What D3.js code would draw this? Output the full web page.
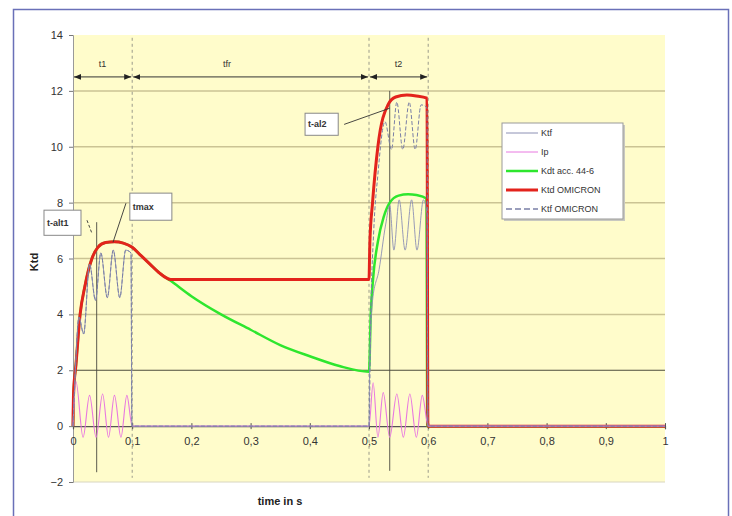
<!DOCTYPE html>
<html>
<head>
<meta charset="utf-8">
<script src="https://cdn.jsdelivr.net/npm/d3@7"></script>
<style>
  body { margin: 0; background: #fff; }
  text { font-family: "Liberation Sans", Arial, sans-serif; }
</style>
</head>
<body>
<svg width="732" height="516"></svg>
<script>
// data (time in s, Ktd)
var xTicks = [0, 0.1, 0.2, 0.3, 0.4, 0.5, 0.6, 0.7, 0.8, 0.9, 1];
var yTicks = [-2, 0, 2, 4, 6, 8, 10, 12, 14];

var ktdOmicron = [[0,0],[0.001,1.2],[0.005,2.2],[0.012,4.0],[0.02,5.0],[0.032,6.0],[0.042,6.4],[0.055,6.57],
  [0.07,6.6],[0.085,6.55],[0.1,6.4],[0.115,6.1],[0.13,5.8],[0.145,5.5],[0.165,5.25],[0.5,5.25],
  [0.5015,6.6],[0.506,8.0],[0.515,10.0],[0.532,11.5],[0.545,11.78],[0.564,11.85],[0.58,11.82],
  [0.598,11.74],[0.5995,0],[1,0]];

var kdtAcc = [[0,0],[0.001,1.2],[0.005,2.2],[0.012,4.0],[0.02,5.0],[0.032,6.0],[0.042,6.4],[0.055,6.57],
  [0.07,6.6],[0.085,6.55],[0.1,6.4],[0.115,6.1],[0.13,5.8],[0.145,5.5],[0.165,5.2],[0.2,4.65],
  [0.25,4.0],[0.3,3.45],[0.35,2.9],[0.4,2.5],[0.45,2.15],[0.5,1.95],[0.503,4.0],[0.507,5.3],
  [0.515,6.6],[0.525,7.5],[0.535,8.0],[0.55,8.25],[0.566,8.3],[0.58,8.27],[0.597,8.15],[0.5985,0],[1,0]];

var ip = [[0,0],[0.005,1.6],[0.017,-0.4],[0.028,1.1],[0.039,-0.4],[0.05,1.15],[0.06,-0.4],[0.07,1.1],
  [0.081,-0.4],[0.091,1.1],[0.1,0],[0.5,0],[0.507,1.55],[0.515,-0.4],[0.524,1.2],[0.535,-0.4],
  [0.547,1.15],[0.558,-0.4],[0.569,1.15],[0.58,-0.4],[0.59,1.1],[0.6,0],[1,0]];

var ktf = [[0,0],[0.004,2],[0.01,3.9],[0.018,3.3],[0.028,5.8],[0.038,4.5],[0.047,6.2],[0.058,4.6],
  [0.068,6.3],[0.079,4.6],[0.089,6.3],[0.098,6.2],[0.0995,0],[0.5,0],[0.501,2],[0.506,4.5],
  [0.517,5.6],[0.528,7.2],[0.535,7.9],[0.542,6.3],[0.551,8.1],[0.561,6.3],[0.572,8.1],[0.581,6.3],
  [0.592,8.1],[0.598,7.6],[0.5995,0],[1,0]];

var ktfOmicron = [[0,0],[0.004,2],[0.01,3.9],[0.018,3.3],[0.028,5.8],[0.038,4.5],[0.047,6.2],[0.058,4.6],
  [0.068,6.3],[0.079,4.6],[0.089,6.3],[0.098,6.2],[0.0995,0],[0.5,0],[0.503,4],[0.508,7],
  [0.515,9],[0.527,10.9],[0.538,9.9],[0.547,11.6],[0.557,9.9],[0.568,11.6],[0.578,9.9],
  [0.588,11.5],[0.598,11.4],[0.5995,0],[1,0]];

// dashed phase boundaries and thin marker lines
var phaseLines = [0.1, 0.5, 0.6];
var markerLines = [[0.04, 7.3, -1.65], [0.535, 12.0, -1.6]];
var phases = [["t1", 0, 0.1], ["tfr", 0.1, 0.5], ["t2", 0.5, 0.6]];

// callout boxes: label, x0, x1, yTop, yBottom, leader from, leader to, dashed?
var callouts = [
  ["t-alt1", -0.049, 0.0135, 7.73, 6.83, [0.0236, 7.37], [0.032, 6.9], true],
  ["tmax", 0.096, 0.167, 8.34, 7.37, [0.0895, 7.98], [0.0676, 6.58], false],
  ["t-al2", 0.392, 0.448, 11.2, 10.41, [0.458, 10.8], [0.535, 11.38], false]
];

var svg = d3.select('svg');
var x = d3.scaleLinear().domain([0, 1]).range([73, 665]);
var y = d3.scaleLinear().domain([-2, 14]).range([482, 35]);

// outer frame
svg.append('rect').attr('x', 13.5).attr('y', 9.5).attr('width', 715).attr('height', 520)
  .attr('fill', '#fff').attr('stroke', '#6a70b8').attr('stroke-width', 1.5);

// plot area
svg.append('rect').attr('x', x(0)).attr('y', y(14)).attr('width', x(1) - x(0)).attr('height', y(-2) - y(14))
  .attr('fill', '#fffccb');
svg.append('line').attr('x1', x(0)).attr('x2', x(1)).attr('y1', y(-2)).attr('y2', y(-2))
  .attr('stroke', '#d8d6c0').attr('stroke-width', 1);

// gridlines
svg.append('g').selectAll('line').data(yTicks.filter(function(d) { return d > 2 && d < 14; }))
  .enter().append('line')
  .attr('x1', x(0)).attr('x2', x(1))
  .attr('y1', function(d) { return y(d); }).attr('y2', function(d) { return y(d); })
  .attr('stroke', '#cbc394').attr('stroke-width', 1.5);
svg.append('line').attr('x1', x(0)).attr('x2', x(1)).attr('y1', y(2)).attr('y2', y(2))
  .attr('stroke', '#4e4c3c').attr('stroke-width', 1);

// dashed phase lines
svg.append('g').selectAll('line').data(phaseLines).enter().append('line')
  .attr('x1', function(d) { return x(d); }).attr('x2', function(d) { return x(d); })
  .attr('y1', y(13.9)).attr('y2', y(-1.85))
  .attr('stroke', '#9a9a8a').attr('stroke-width', 1).attr('stroke-dasharray', '3,3');

// axes
var yAxis = svg.append('g').attr('transform', 'translate(' + x(0) + ',0)')
  .call(d3.axisLeft(y).tickValues(yTicks).tickSize(4).tickPadding(6).tickFormat(d3.format('d')));
yAxis.select('.domain').attr('stroke', '#999');
yAxis.selectAll('.tick line').attr('stroke', '#777');
yAxis.selectAll('.tick text').attr('font-size', 11).attr('fill', '#333')
  .attr('font-family', '"Liberation Sans", Arial, sans-serif');

var xAxis = svg.append('g').attr('transform', 'translate(0,' + y(0) + ')')
  .call(d3.axisBottom(x).tickValues(xTicks).tickSize(3).tickPadding(8)
    .tickFormat(function(d) { return d === 0 || d === 1 ? String(d) : String(d).replace('.', ','); }));
xAxis.select('.domain').attr('stroke', '#555').attr('stroke-width', 1.2);
xAxis.selectAll('.tick line').attr('stroke', '#555').attr('y1', -3);
xAxis.selectAll('.tick text').attr('font-size', 11).attr('fill', '#333')
  .attr('font-family', '"Liberation Sans", Arial, sans-serif');

// thin marker lines
svg.append('g').selectAll('line').data(markerLines).enter().append('line')
  .attr('x1', function(d) { return x(d[0]); }).attr('x2', function(d) { return x(d[0]); })
  .attr('y1', function(d) { return y(d[1]); }).attr('y2', function(d) { return y(d[2]); })
  .attr('stroke', '#4a4a40').attr('stroke-width', 0.9);

// series
var line = d3.line()
  .x(function(d) { return x(d[0]); })
  .y(function(d) { return y(d[1]); })
  .curve(d3.curveMonotoneX);

svg.append('path').datum(kdtAcc).attr('d', line).attr('fill', 'none')
  .attr('stroke', '#2ee62e').attr('stroke-width', 2.5);
svg.append('path').datum(ktdOmicron).attr('d', line).attr('fill', 'none')
  .attr('stroke', '#e3231c').attr('stroke-width', 3);
svg.append('path').datum(ip).attr('d', line).attr('fill', 'none')
  .attr('stroke', '#e878e0').attr('stroke-width', 1.1);
svg.append('path').datum(ktf).attr('d', line).attr('fill', 'none')
  .attr('stroke', '#8c90b4').attr('stroke-width', 0.9);
svg.append('path').datum(ktfOmicron).attr('d', line).attr('fill', 'none')
  .attr('stroke', '#7a7fa6').attr('stroke-width', 1).attr('stroke-dasharray', '4,2');

// phase dimension arrows
var defs = svg.append('defs');
defs.append('marker').attr('id', 'arr').attr('viewBox', '0 0 10 10').attr('refX', 10).attr('refY', 5)
  .attr('markerWidth', 7).attr('markerHeight', 7).attr('orient', 'auto-start-reverse')
  .append('path').attr('d', 'M0,1 L10,5 L0,9 Z').attr('fill', '#222');

var dim = svg.append('g');
dim.selectAll('line').data(phases).enter().append('line')
  .attr('x1', function(d) { return x(d[1]) + 1; }).attr('x2', function(d) { return x(d[2]) - 1; })
  .attr('y1', y(12.5)).attr('y2', y(12.5))
  .attr('stroke', '#333').attr('stroke-width', 1)
  .attr('marker-start', 'url(#arr)').attr('marker-end', 'url(#arr)');
dim.selectAll('text').data(phases).enter().append('text')
  .attr('x', function(d) { return x(d[0] === 'tfr' ? 0.26 : (d[1] + d[2]) / 2); })
  .attr('y', y(12.85))
  .attr('text-anchor', 'middle').attr('font-size', 9).attr('fill', '#333')
  .text(function(d) { return d[0]; });

// callouts
var co = svg.append('g').selectAll('g').data(callouts).enter().append('g');
co.append('line')
  .attr('x1', function(d) { return x(d[5][0]); }).attr('y1', function(d) { return y(d[5][1]); })
  .attr('x2', function(d) { return x(d[6][0]); }).attr('y2', function(d) { return y(d[6][1]); })
  .attr('stroke', '#333').attr('stroke-width', 0.9)
  .attr('stroke-dasharray', function(d) { return d[7] ? '3,2' : null; });
co.append('rect')
  .attr('x', function(d) { return x(d[1]); }).attr('y', function(d) { return y(d[3]); })
  .attr('width', function(d) { return x(d[2]) - x(d[1]); })
  .attr('height', function(d) { return y(d[4]) - y(d[3]); })
  .attr('fill', '#fff').attr('stroke', '#888').attr('stroke-width', 1);
co.append('text')
  .attr('x', function(d) { return x(d[1]) + 3; })
  .attr('y', function(d) { return (y(d[3]) + y(d[4])) / 2 + 3; })
  .attr('font-size', 9).attr('font-weight', 'bold').attr('fill', '#333')
  .text(function(d) { return d[0]; });

// axis titles
svg.append('text').attr('transform', 'translate(38,262) rotate(-90)')
  .attr('text-anchor', 'middle').attr('font-size', 11).attr('font-weight', 'bold').attr('fill', '#222')
  .text('Ktd');
svg.append('text').attr('x', 280).attr('y', 505)
  .attr('text-anchor', 'middle').attr('font-size', 11).attr('font-weight', 'bold').attr('fill', '#222')
  .text('time in s');

// legend
var legendItems = [
  ['Ktf', '#8c90b4', 1, null],
  ['Ip', '#e878e0', 1, null],
  ['Kdt acc. 44-6', '#2ee62e', 2.5, null],
  ['Ktd OMICRON', '#e3231c', 3, null],
  ['Ktf OMICRON', '#7a7fa6', 1.5, '6,3']
];
var legend = svg.append('g').attr('transform', 'translate(502,123)');
legend.append('rect').attr('x', 2).attr('y', 2).attr('width', 121).attr('height', 96).attr('fill', '#c8c8c0');
legend.append('rect').attr('width', 121).attr('height', 96).attr('fill', '#fff')
  .attr('stroke', '#999').attr('stroke-width', 1);
var li = legend.selectAll('g.item').data(legendItems).enter().append('g').attr('class', 'item')
  .attr('transform', function(d, i) { return 'translate(0,' + (10 + i * 19) + ')'; });
li.append('line').attr('x1', 4).attr('x2', 36).attr('y1', 0).attr('y2', 0)
  .attr('stroke', function(d) { return d[1]; })
  .attr('stroke-width', function(d) { return d[2]; })
  .attr('stroke-dasharray', function(d) { return d[3]; });
li.append('text').attr('x', 39).attr('y', 3).attr('font-size', 9).attr('fill', '#333')
  .text(function(d) { return d[0]; });
</script>
</body>
</html>
